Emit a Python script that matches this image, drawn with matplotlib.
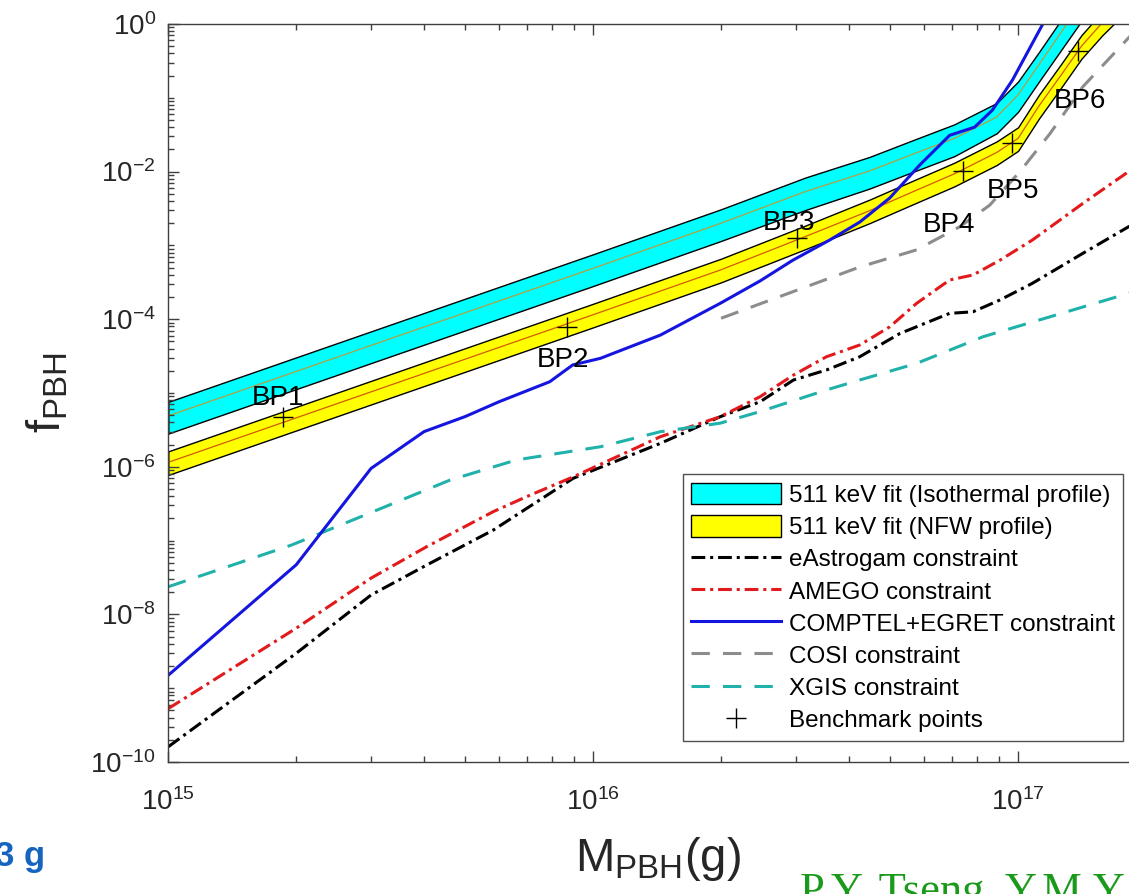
import numpy as np
import matplotlib
matplotlib.use('Agg')
import matplotlib.pyplot as plt
from matplotlib.ticker import LogLocator, NullFormatter

plt.rcParams['font.family'] = ['Liberation Sans', 'DejaVu Sans']
plt.rcParams['mathtext.fontset'] = 'custom'
plt.rcParams['mathtext.rm'] = 'Liberation Sans'
plt.rcParams['mathtext.it'] = 'Liberation Sans:italic'
plt.rcParams['mathtext.bf'] = 'Liberation Sans:bold'
plt.rcParams['axes.unicode_minus'] = False

# 511 keV fit bands (M in g, f_PBH)
band_M = [1e15, 3.16e15, 1e16, 2e16, 3.16e16, 4.47e16, 5.62e16, 7.08e16,
          8.91e16, 1e17, 1.12e17, 1.26e17, 1.41e17, 1.58e17, 2e17]
iso_hi = [7.59e-6, 7.59e-5, 7.59e-4, 3.09e-3, 8.32e-3, 1.58e-2, 2.63e-2, 4.37e-2,
          8.51e-2, 0.166, 0.417, 1.12, 2.82, 6.0, 24.0]
iso_mid = [4.90e-6, 4.90e-5, 4.90e-4, 2.00e-3, 5.37e-3, 1.02e-2, 1.70e-2, 2.82e-2,
           5.50e-2, 0.110, 0.282, 0.759, 1.91, 4.17, 15.8]
iso_lo = [2.82e-6, 2.82e-5, 2.82e-4, 1.15e-3, 3.02e-3, 5.89e-3, 9.77e-3, 1.62e-2,
          3.31e-2, 6.46e-2, 0.166, 0.437, 1.10, 2.40, 9.12]
nfw_hi = [1.62e-6, 1.62e-5, 1.62e-4, 6.61e-4, 1.86e-3, 4.17e-3, 7.41e-3, 1.32e-2,
          2.57e-2, 3.98e-2, 0.110, 0.282, 0.708, 1.48, 5.62]
nfw_mid = [1.15e-6, 1.15e-5, 1.15e-4, 4.68e-4, 1.32e-3, 2.95e-3, 5.25e-3, 9.33e-3,
           1.82e-2, 2.82e-2, 7.76e-2, 0.200, 0.501, 1.05, 3.98]
nfw_lo = [7.76e-7, 7.76e-6, 7.76e-5, 3.16e-4, 8.91e-4, 2.00e-3, 3.55e-3, 6.31e-3,
          1.23e-2, 1.91e-2, 5.25e-2, 0.135, 0.339, 0.708, 2.69]

# constraints
comptel_M = [1e15, 2e15, 3e15, 4e15, 5e15, 6e15, 7.9e15, 8.95e15, 1.04e16, 1.44e16,
             1.99e16, 2.47e16, 2.95e16, 3.6e16, 4.24e16, 4.99e16, 5.87e16, 6.9e16,
             7.9e16, 8.7e16, 9.7e16, 1.14e17, 1.25e17]
comptel_f = [1.5e-9, 4.7e-8, 9.5e-7, 3.0e-6, 4.8e-6, 7.6e-6, 1.42e-5, 2.4e-5, 2.95e-5,
             6.1e-5, 1.64e-4, 3.3e-4, 6.3e-4, 1.18e-3, 2.07e-3, 4.4e-3, 1.23e-2,
             3.1e-2, 4.0e-2, 6.8e-2, 0.174, 0.97, 3.0]

amego_M = [1e15, 2e15, 3e15, 4.06e15, 5.82e15, 6.97e15, 8.97e15, 1.44e16, 1.99e16,
           2.47e16, 2.96e16, 3.54e16, 4.24e16, 4.99e16, 5.77e16, 6.9e16, 7.83e16,
           9.06e16, 1.08e17, 1.42e17, 1.82e17, 2e17]
amego_f = [5.3e-10, 6.5e-9, 3.1e-8, 8.3e-8, 2.47e-7, 3.94e-7, 7.3e-7, 2.56e-6, 4.77e-6,
           8.9e-6, 1.75e-5, 3.1e-5, 4.47e-5, 7.9e-5, 1.64e-4, 3.4e-4, 3.97e-4,
           6.3e-4, 1.18e-3, 3.7e-3, 1.0e-2, 1.4e-2]

eastro_M = [1e15, 2e15, 3e15, 4.06e15, 5.82e15, 8.97e15, 1.44e16, 1.99e16, 2.47e16,
            2.96e16, 3.54e16, 4.24e16, 5.27e16, 6.9e16, 7.83e16, 9.06e16, 1.08e17,
            1.42e17, 1.82e17, 2e17]
eastro_f = [1.61e-10, 2.97e-9, 1.83e-8, 4.68e-8, 1.39e-7, 6.98e-7, 2.08e-6, 4.77e-6,
            7.6e-6, 1.5e-5, 2.05e-5, 3.1e-5, 6.4e-5, 1.2e-4, 1.26e-4, 1.82e-4,
            3.06e-4, 7.8e-4, 1.79e-3, 2.24e-3]

xgis_M = [1e15, 1.95e15, 3e15, 4.6e15, 6.6e15, 1.04e16, 1.44e16, 1.99e16, 2.47e16,
          3.54e16, 4.24e16, 5.77e16, 8.28e16, 1.19e17, 1.82e17, 2e17]
xgis_f = [2.37e-8, 8.7e-8, 2.4e-7, 6.6e-7, 1.24e-6, 1.87e-6, 2.99e-6, 3.9e-6, 5.6e-6,
          1.1e-5, 1.5e-5, 2.52e-5, 5.8e-5, 1.08e-4, 2.24e-4, 2.6e-4]

cosi_M = [2.0e16, 4.24e16, 5.77e16, 7.29e16, 8.57e16, 1.01e17, 1.19e17, 1.42e17,
          1.8e17, 2e17]
cosi_f = [1.03e-4, 5.1e-4, 8.7e-4, 1.79e-3, 3.5e-3, 1.0e-2, 3.3e-2, 0.141, 0.607, 1.17]

# benchmark points
bp_M = [1.86e15, 8.69e15, 3.02e16, 7.4e16, 9.7e16, 1.38e17]
bp_f = [4.69e-6, 7.91e-5, 1.25e-3, 1.03e-2, 2.41e-2, 0.435]
bp_names = ['BP1', 'BP2', 'BP3', 'BP4', 'BP5', 'BP6']
bp_text_M = [1.57e15, 7.37e15, 2.5e16, 5.97e16, 8.43e16, 1.21e17]
bp_text_f = [6.87e-6, 2.25e-5, 1.62e-3, 1.53e-3, 4.39e-3, 7.27e-2]

x_ticks = [1e15, 1e16, 1e17]
x_ticklabels = [r'10$^{\mathregular{15}}$', r'10$^{\mathregular{16}}$',
                r'10$^{\mathregular{17}}$']
y_ticks = [1e-10, 1e-8, 1e-6, 1e-4, 1e-2, 1]
y_ticklabels = [r'10$^{\mathregular{-10}}$', r'10$^{\mathregular{-8}}$',
                r'10$^{\mathregular{-6}}$', r'10$^{\mathregular{-4}}$',
                r'10$^{\mathregular{-2}}$', r'10$^{\mathregular{0}}$']

W, H = 1129, 894
fig = plt.figure(figsize=(W / 100, H / 100), dpi=100)
ax = fig.add_axes([168.3 / W, 132 / H, 977.7 / W, 738 / H])

ax.fill_between(band_M, iso_lo, iso_hi, facecolor='#00ffff', edgecolor='black',
                linewidth=1.0, zorder=1, label='511 keV fit (Isothermal profile)')
ax.plot(band_M, iso_mid, color='#b0a040', lw=0.9, zorder=1.1)
ax.fill_between(band_M, nfw_lo, nfw_hi, facecolor='#ffff00', edgecolor='black',
                linewidth=1.0, zorder=1, label='511 keV fit (NFW profile)')
ax.plot(band_M, nfw_mid, color='#d45a00', lw=0.9, zorder=1.1)

dashdot = (0, (4.5, 1.6, 1.0, 1.6))
dashed = (0, (6.0, 4.3))
ax.plot(eastro_M, eastro_f, color='black', lw=2.2, linestyle=dashdot,
        label='eAstrogam constraint', zorder=2)
ax.plot(amego_M, amego_f, color='#e31a1c', lw=2.2, linestyle=dashdot,
        label='AMEGO constraint', zorder=2)
ax.plot(comptel_M, comptel_f, color='#1515e0', lw=2.2,
        label='COMPTEL+EGRET constraint', zorder=2.5)
ax.plot(cosi_M, cosi_f, color='#8c8c8c', lw=2.2, linestyle=dashed,
        label='COSI constraint', zorder=2)
ax.plot(xgis_M, xgis_f, color='#20b2aa', lw=2.2, linestyle=dashed,
        label='XGIS constraint', zorder=2)
ax.plot(bp_M, bp_f, linestyle='none', marker='+', color='black', markersize=15,
        markeredgewidth=1.0, label='Benchmark points', zorder=3)

for name, tx, ty in zip(bp_names, bp_text_M, bp_text_f):
    ax.text(tx, ty, name, fontsize=20, ha='left', va='baseline', zorder=4)

ax.set_xscale('log')
ax.set_yscale('log')
ax.set_xlim(1e15, 2e17)
ax.set_ylim(1e-10, 1)

ax.set_xticks(x_ticks)
ax.set_xticklabels(x_ticklabels)
ax.set_yticks(y_ticks)
ax.set_yticklabels(y_ticklabels)
ax.xaxis.set_minor_locator(LogLocator(base=10, subs=np.arange(1, 10), numticks=100))
ax.yaxis.set_minor_locator(LogLocator(base=10, subs=np.arange(1, 10), numticks=100))
ax.xaxis.set_minor_formatter(NullFormatter())
ax.yaxis.set_minor_formatter(NullFormatter())

ax.tick_params(which='both', direction='in', top=True, right=True,
               color='#404040', width=1.0, labelcolor='#262626', labelsize=20)
ax.tick_params(which='major', length=8)
ax.tick_params(which='minor', length=4.3)
ax.tick_params(axis='x', which='major', pad=19)
ax.tick_params(axis='y', which='major', pad=9)
for s in ax.spines.values():
    s.set_color('#404040')
    s.set_linewidth(1.0)

ax.set_xlabel(r'M$_{\mathregular{PBH}}$(g)', fontsize=34, color='#262626')
ax.set_ylabel(r'f$_{\mathregular{PBH}}$', fontsize=34, color='#262626')
ax.xaxis.set_label_coords(0.501, -0.099)
ax.yaxis.set_label_coords(-0.1005, 0.50)

leg = ax.legend(loc='lower right', bbox_to_anchor=(0.9765, 0.0285), borderaxespad=0,
                fontsize=17.5, handlelength=3.7, handleheight=1.0, handletextpad=0.3,
                labelspacing=0.33, borderpad=0.35, numpoints=1, fancybox=False,
                framealpha=1, edgecolor='#505050')
leg.get_frame().set_linewidth(1.0)

fig.text(-5 / W, (H - 866) / H, '3 g', fontsize=25, fontweight='bold',
         color='#1565c0', ha='left', va='baseline')
fig.text(800 / W, -9 / H, 'P.Y. Tseng, Y.M.Y', fontsize=32, color='#1a9a1a',
         family=['Liberation Serif', 'DejaVu Serif'], ha='left', va='baseline')

fig.savefig('out.png', dpi=100)
